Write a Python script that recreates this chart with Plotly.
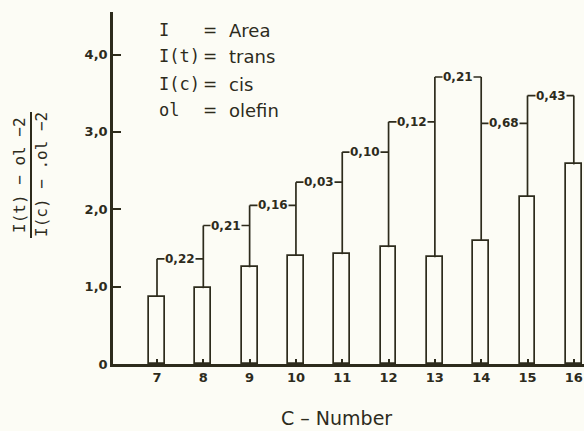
import plotly.graph_objects as go

# Ratio of trans/cis olefin areas for each carbon number
carbon_numbers = [7, 8, 9, 10, 11, 12, 13, 14, 15, 16]
ratios = [0.87, 0.98, 1.25, 1.40, 1.42, 1.51, 1.38, 1.59, 2.16, 2.58]

# Bracket labels between neighbouring carbon numbers and the height of each bracket
pair_labels = ["0,22", "0,21", "0,16", "0,03", "0,10", "0,12", "0,21", "0,68", "0,43"]
pair_levels = [1.36, 1.79, 2.05, 2.35, 2.74, 3.13, 3.71, 3.11, 3.47]

y_tick_vals = [0, 1, 2, 3, 4]
y_tick_text = ["0", "1,0", "2,0", "3,0", "4,0"]

legend_keys = ["I", "I(t)", "I(c)", "ol"]
legend_meanings = ["Area", "trans", "cis", "olefin"]

INK = "#2d2b1c"
PAPER = "#fcfcf5"
W, H = 584, 431
M_L, M_R, M_T, M_B = 113, 0, 12, 67


def px_x(px):
    return (px - M_L) / (W - M_L - M_R)


def px_y(py):
    return (H - M_B - py) / (H - M_T - M_B)


fig = go.Figure()

# Open bars
fig.add_trace(go.Bar(
    x=carbon_numbers, y=ratios, width=0.34,
    marker=dict(color=PAPER, line=dict(color=INK, width=1.7)),
    showlegend=False, hoverinfo="skip",
))

# Brackets: vertical stem from each bar top, horizontal bar joining neighbours
bx, by = [], []
for i, (c, r) in enumerate(zip(carbon_numbers, ratios)):
    adj = []
    if i > 0:
        adj.append(pair_levels[i - 1])
    if i < len(pair_levels):
        adj.append(pair_levels[i])
    bx += [c, c, None]
    by += [r, max(adj), None]
for j, lvl in enumerate(pair_levels):
    bx += [carbon_numbers[j], carbon_numbers[j + 1], None]
    by += [lvl, lvl, None]
fig.add_trace(go.Scatter(
    x=bx, y=by, mode="lines", line=dict(color=INK, width=1.7),
    showlegend=False, hoverinfo="skip", cliponaxis=False,
))

annotations = []
label_font = dict(family="DejaVu Sans", size=12, color=INK, weight=700)
tick_font = dict(family="DejaVu Sans", size=13, color=INK, weight=700)
for j, (lab, lvl) in enumerate(zip(pair_labels, pair_levels)):
    annotations.append(dict(
        x=(carbon_numbers[j] + carbon_numbers[j + 1]) / 2, y=lvl,
        xref="x", yref="y", text=lab, showarrow=False,
        font=label_font, bgcolor=PAPER, borderpad=0,
        xanchor="center", yanchor="middle",
    ))

# Key in the upper left
key_rows = [30, 56, 84, 110]
for key, meaning, row in zip(legend_keys, legend_meanings, key_rows):
    annotations.append(dict(
        x=px_x(157), y=px_y(row), xref="paper", yref="paper",
        text=key, showarrow=False, xanchor="left", yanchor="middle",
        font=dict(family="DejaVu Sans Mono", size=17, color=INK),
    ))
    annotations.append(dict(
        x=px_x(210), y=px_y(row), xref="paper", yref="paper",
        text="=", showarrow=False, xanchor="center", yanchor="middle",
        font=dict(family="DejaVu Sans", size=17, color=INK),
    ))
    annotations.append(dict(
        x=px_x(227), y=px_y(row), xref="paper", yref="paper",
        text=meaning, showarrow=False, xanchor="left", yanchor="middle",
        font=dict(family="DejaVu Sans", size=18, color=INK),
    ))

# Y-axis title as a fraction
frac_font = dict(family="DejaVu Sans Mono", size=16, color=INK)
annotations.append(dict(
    x=px_x(20), y=px_y(175), xref="paper", yref="paper",
    text="I(t) \u2212 ol \u22122", textangle=-90, showarrow=False,
    xanchor="center", yanchor="middle", font=frac_font,
))
annotations.append(dict(
    x=px_x(42), y=px_y(175), xref="paper", yref="paper",
    text="I(c) \u2212 .ol \u22122", textangle=-90, showarrow=False,
    xanchor="center", yanchor="middle", font=frac_font,
))

# X-axis title
annotations.append(dict(
    x=px_x(336), y=px_y(418), xref="paper", yref="paper",
    text="C \u2013 Number", showarrow=False,
    xanchor="center", yanchor="middle",
    font=dict(family="DejaVu Sans", size=19, color=INK),
))

shapes = [dict(
    type="line", xref="paper", yref="paper",
    x0=px_x(31), x1=px_x(31), y0=px_y(112), y1=px_y(238),
    line=dict(color=INK, width=2),
)]

fig.update_layout(
    width=W, height=H,
    margin=dict(l=M_L, r=M_R, t=M_T, b=M_B, pad=0),
    paper_bgcolor=PAPER, plot_bgcolor=PAPER,
    annotations=annotations, shapes=shapes,
    bargap=0,
    xaxis=dict(
        range=[6.05, 16.22], showgrid=False, zeroline=False,
        showline=True, linecolor=INK, linewidth=2.5,
        ticks="inside", ticklen=5, tickwidth=1.5, tickcolor=INK,
        tickvals=carbon_numbers, ticktext=[str(c) for c in carbon_numbers],
        tickfont=tick_font,
    ),
    yaxis=dict(
        range=[0, 4.55], showgrid=False, zeroline=False,
        showline=True, linecolor=INK, linewidth=2.5,
        ticks="inside", ticklen=8, tickwidth=2, tickcolor=INK,
        tickvals=y_tick_vals, ticktext=y_tick_text,
        tickfont=tick_font,
    ),
)

fig.write_html("out.html")
